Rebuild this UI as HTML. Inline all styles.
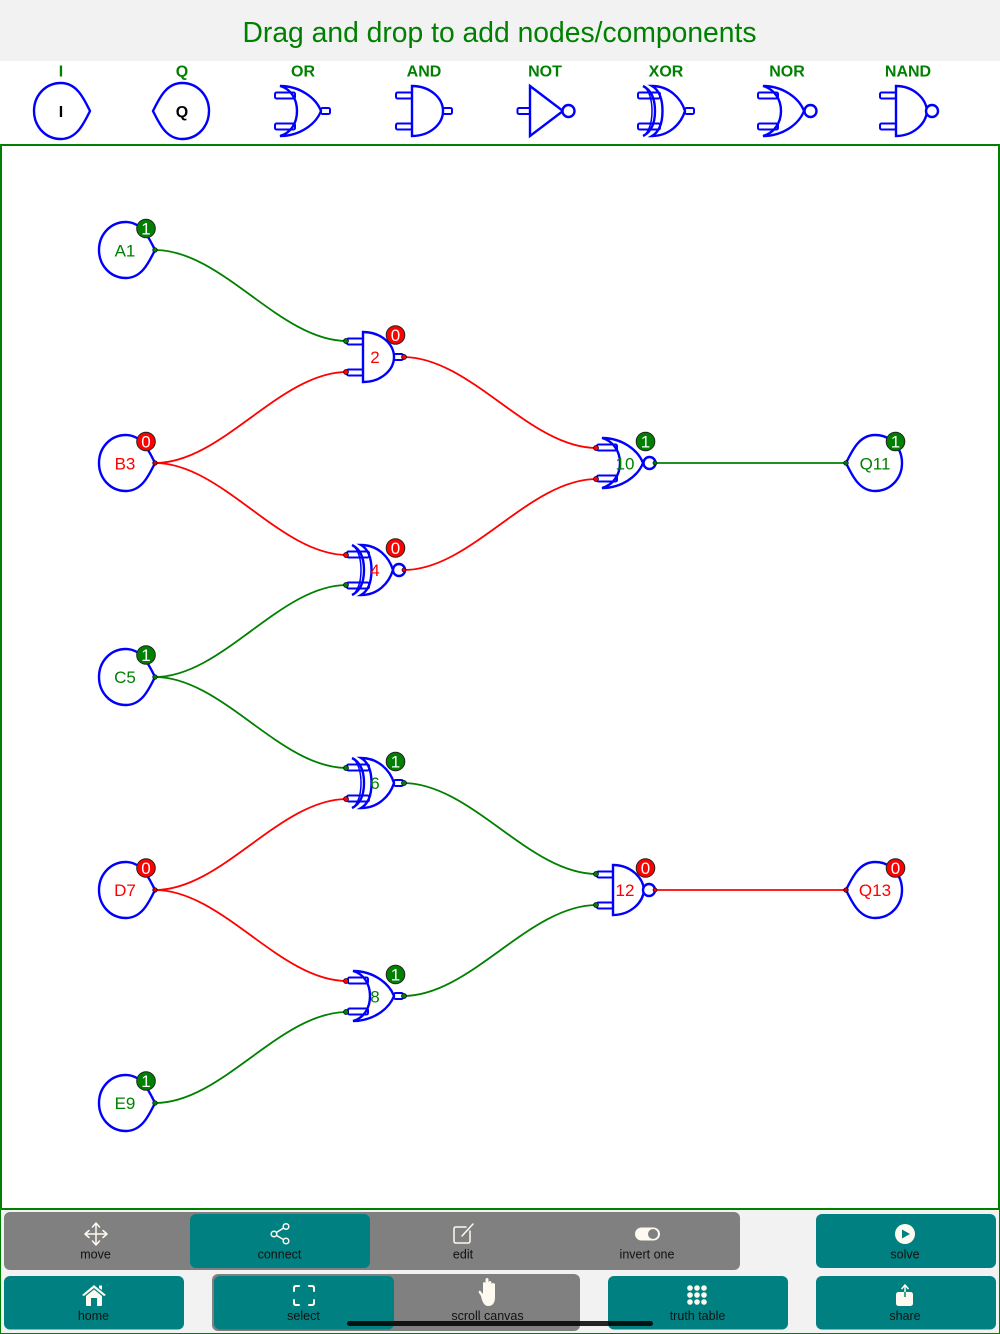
<!DOCTYPE html>
<html><head><meta charset="utf-8">
<style>
html,body{margin:0;padding:0;background:#fff}
svg{display:block}
text{font-family:"Liberation Sans",sans-serif}
</style></head><body>
<svg width="1000" height="1334" viewBox="0 0 1000 1334" xmlns="http://www.w3.org/2000/svg">
<defs>
<g id="pinA" fill="#fff" stroke="#00f" stroke-width="2">
<rect x="-16" y="-18.5" width="16" height="6" rx="1.5"/>
<rect x="-16" y="12.5" width="16" height="6" rx="1.5"/>
</g>
<g id="pinO" fill="#fff" stroke="#00f" stroke-width="2">
<rect x="-5" y="-18.5" width="20" height="6" rx="1.5"/>
<rect x="-5" y="12.5" width="20" height="6" rx="1.5"/>
</g>
<g id="pinX" fill="#fff" stroke="#00f" stroke-width="2">
<rect x="-14" y="-18.5" width="22" height="6" rx="1.5"/>
<rect x="-14" y="12.5" width="22" height="6" rx="1.5"/>
</g>
<g id="out"><rect x="0" y="-3" width="9" height="6" rx="1.5" fill="#fff" stroke="#00f" stroke-width="2"/></g>
<g id="and" fill="none" stroke="#00f" stroke-width="2.4">
<use href="#pinA"/><use href="#out" x="31"/>
<path d="M0,-25 C18,-25 31,-13 31,0 C31,13 18,25 0,25 Z" fill="#fff"/>
</g>
<g id="nand" fill="none" stroke="#00f" stroke-width="2.4">
<use href="#pinA"/>
<path d="M0,-25 C17,-25 30,-13 31,0 C30,13 17,25 0,25 Z" fill="#fff"/>
<circle cx="36" cy="0" r="6" fill="#fff"/>
</g>
<g id="or" fill="none" stroke="#00f" stroke-width="2.4">
<use href="#pinO"/><use href="#out" x="41"/>
<path d="M0,-25 C20,-25 36,-13 41,0 C36,13 20,25 0,25 C11,22 17,12 17,0 C17,-12 11,-22 0,-25 Z"/>
</g>
<g id="nor" fill="none" stroke="#00f" stroke-width="2.4">
<use href="#pinO"/>
<path d="M0,-25 C20,-25 36,-13 41,0 C36,13 20,25 0,25 C11,22 18,12 18,0 C18,-12 11,-22 0,-25 Z"/>
<circle cx="47.500" cy="0" r="6" fill="#fff"/>
</g>
<g id="xor" fill="none" stroke="#00f" stroke-width="2.4">
<use href="#pinX"/><use href="#out" x="33"/>
<path d="M0,-25 C17,-25 29,-13 33,0 C29,13 17,25 0,25 C7,21 10.500,12 10.500,0 C10.500,-12 7,-21 0,-25 Z"/>
<path d="M-9,-25 C-1,-21 3,-12 3,0 C3,12 -1,21 -9,25"/>
<path d="M-8,-25 C-3,-20 0,-11 0,0 C0,11 -3,20 -8,25" stroke-width="1.5"/>
</g>
<g id="xnor" fill="none" stroke="#00f" stroke-width="2.4">
<use href="#pinX"/>
<path d="M0,-25 C17,-25 28,-13 32,0 C28,13 17,25 0,25 C7,21 10.500,12 10.500,0 C10.500,-12 7,-21 0,-25 Z"/>
<path d="M-9,-25 C-1,-21 3,-12 3,0 C3,12 -1,21 -9,25"/>
<path d="M-8,-25 C-3,-20 0,-11 0,0 C0,11 -3,20 -8,25" stroke-width="1.500"/>
<circle cx="38" cy="0" r="6" fill="#fff"/>
</g>
<path id="nI" d="M56,0 C50,-12 43,-28 27,-28 C11,-28 0,-15 0,0 C0,15 11,28 27,28 C43,28 50,12 56,0 Z" fill="#fff" stroke="#00f" stroke-width="2.4"/>
<path id="nQ" d="M0,0 C6,-12 13,-28 29,-28 C45,-28 56,-15 56,0 C56,15 45,28 29,28 C13,28 6,12 0,0 Z" fill="#fff" stroke="#00f" stroke-width="2.4"/>
</defs>

<rect width="1000" height="1334" fill="#fff"/>
<rect width="1000" height="61" fill="#f2f2f2"/>
<text x="499.500" y="42" font-size="29" fill="#008000" text-anchor="middle" textLength="514" lengthAdjust="spacingAndGlyphs">Drag and drop to add nodes/components</text>

<g font-size="16" font-weight="bold" fill="#008000" text-anchor="middle">
<text x="61" y="76.500">I</text><text x="182" y="76.500">Q</text><text x="303" y="76.500">OR</text><text x="424" y="76.500">AND</text><text x="545" y="76.500">NOT</text><text x="666" y="76.500">XOR</text><text x="787" y="76.500">NOR</text><text x="908" y="76.500">NAND</text>
</g>
<use href="#nI" x="34" y="111"/>
<use href="#nQ" x="153" y="111"/>
<text x="61" y="117" font-size="16" font-weight="bold" text-anchor="middle">I</text>
<text x="182" y="117" font-size="16" font-weight="bold" text-anchor="middle">Q</text>
<use href="#or" x="280" y="111"/>
<use href="#and" x="412" y="111"/>
<g fill="none" stroke="#00f" stroke-width="2.400">
<rect x="517.500" y="108" width="13" height="6" rx="1.500" fill="#fff" stroke-width="2"/>
<path d="M530,86 L563,111 L530,136 Z" fill="#fff"/>
<circle cx="568.500" cy="111" r="6" fill="#fff"/>
</g>
<use href="#xor" x="652" y="111"/>
<use href="#nor" x="763" y="111"/>
<use href="#nand" x="896" y="111"/>

<rect x="1" y="145" width="998" height="1064" fill="#fff" stroke="#008000" stroke-width="2"/>

<g fill="none" stroke-width="1.800">
<path d="M155,250 C222,250 280,341 347,341" stroke="#008000"/>
<path d="M155,463 C222,463 280,372 347,372" stroke="#f00"/>
<path d="M155,463 C222,463 280,555 347,555" stroke="#f00"/>
<path d="M155,677 C222,677 280,585 347,585" stroke="#008000"/>
<path d="M155,677 C222,677 280,768 347,768" stroke="#008000"/>
<path d="M155,890 C222,890 280,799 347,799" stroke="#f00"/>
<path d="M155,890 C222,890 280,981 347,981" stroke="#f00"/>
<path d="M155,1103 C222,1103 280,1012 347,1012" stroke="#008000"/>
<path d="M403,357 C471,357 529,448 597,448" stroke="#f00"/>
<path d="M404,570 C471,570 529,479 597,479" stroke="#f00"/>
<path d="M403,783 C471,783 529,874 597,874" stroke="#008000"/>
<path d="M403,996 C471,996 529,905 597,905" stroke="#008000"/>
<path d="M655,463 L846,463" stroke="#008000"/>
<path d="M655,890 L846,890" stroke="#f00"/>
</g>

<use href="#nI" x="99" y="250"/><use href="#nI" x="99" y="463"/><use href="#nI" x="99" y="677"/><use href="#nI" x="99" y="890"/><use href="#nI" x="99" y="1103"/>
<use href="#nQ" x="846" y="463"/><use href="#nQ" x="846" y="890"/>

<use href="#and" x="363" y="357"/>
<use href="#xnor" x="361" y="570"/>
<use href="#xor" x="361" y="783"/>
<use href="#or" x="353" y="996"/>
<use href="#nor" x="602" y="463"/>
<use href="#nand" x="613" y="890"/>

<g stroke="#003" stroke-width="0.700">
<circle cx="155" cy="250" r="2.300" fill="#008000"/><circle cx="155" cy="463" r="2.300" fill="#c00"/><circle cx="155" cy="677" r="2.300" fill="#008000"/><circle cx="155" cy="890" r="2.300" fill="#c00"/><circle cx="155" cy="1103" r="2.300" fill="#008000"/>
<circle cx="846" cy="463" r="2.300" fill="#008000"/><circle cx="846" cy="890" r="2.300" fill="#c00"/>
<circle cx="346" cy="341" r="2.500" fill="#008000"/><circle cx="346" cy="372" r="2.500" fill="#f00"/>
<circle cx="346" cy="555" r="2.500" fill="#f00"/><circle cx="346" cy="585" r="2.500" fill="#008000"/>
<circle cx="346" cy="768" r="2.500" fill="#008000"/><circle cx="346" cy="799" r="2.500" fill="#f00"/>
<circle cx="346" cy="981" r="2.500" fill="#f00"/><circle cx="346" cy="1012" r="2.500" fill="#008000"/>
<circle cx="596" cy="448" r="2.500" fill="#f00"/><circle cx="596" cy="479" r="2.500" fill="#f00"/>
<circle cx="596" cy="874" r="2.500" fill="#008000"/><circle cx="596" cy="905" r="2.500" fill="#008000"/>
<circle cx="404" cy="357" r="2.500" fill="#f00"/><circle cx="404" cy="570" r="2" fill="#f00"/>
<circle cx="404" cy="783" r="2.500" fill="#008000"/><circle cx="404" cy="996" r="2.500" fill="#008000"/>
<circle cx="655" cy="463" r="2" fill="#008000"/><circle cx="655" cy="890" r="2" fill="#f00"/>
</g>

<g font-size="17" text-anchor="middle">
<g fill="#008000">
<text x="125" y="256.500">A1</text><text x="125" y="683">C5</text><text x="125" y="1109">E9</text>
<text x="875" y="469.500">Q11</text><text x="625" y="469.500">10</text><text x="375" y="789">6</text><text x="375" y="1002.500">8</text>
</g>
<g fill="#f00">
<text x="125" y="469.500">B3</text><text x="125" y="896">D7</text><text x="875" y="896">Q13</text>
<text x="375" y="363">2</text><text x="375" y="576">4</text><text x="625" y="896">12</text>
</g>
</g>

<g stroke="#222" stroke-width="1">
<circle cx="146" cy="228.500" r="9.300" fill="#008000"/><circle cx="146" cy="441.500" r="9.300" fill="#f00"/><circle cx="146" cy="655" r="9.300" fill="#008000"/><circle cx="146" cy="868" r="9.300" fill="#f00"/><circle cx="146" cy="1081" r="9.300" fill="#008000"/>
<circle cx="895.500" cy="441.500" r="9.300" fill="#008000"/><circle cx="895.500" cy="868" r="9.300" fill="#f00"/>
<circle cx="395.500" cy="335" r="9.300" fill="#f00"/><circle cx="395.500" cy="548" r="9.300" fill="#f00"/><circle cx="395.500" cy="761.500" r="9.300" fill="#008000"/><circle cx="395.500" cy="974.500" r="9.300" fill="#008000"/>
<circle cx="645.500" cy="441.500" r="9.300" fill="#008000"/><circle cx="645.500" cy="868" r="9.300" fill="#f00"/>
</g>
<g font-size="17" fill="#fff" text-anchor="middle">
<text x="146" y="234.500">1</text><text x="146" y="447.500">0</text><text x="146" y="661">1</text><text x="146" y="874">0</text><text x="146" y="1087">1</text>
<text x="895.500" y="447.500">1</text><text x="895.500" y="874">0</text>
<text x="395.500" y="341">0</text><text x="395.500" y="554">0</text><text x="395.500" y="767.500">1</text><text x="395.500" y="980.500">1</text>
<text x="645.500" y="447.500">1</text><text x="645.500" y="874">0</text>
</g>

<rect x="0" y="1210" width="1000" height="124" fill="#f2f2f2"/>
<rect x="0.500" y="1209" width="999" height="124.500" fill="none" stroke="#008000" stroke-width="1"/>
<rect x="1" y="1208.500" width="998" height="1.500" fill="#008000"/>

<rect x="4" y="1212" width="736" height="58" rx="6" fill="#808080"/>
<rect x="190" y="1214" width="180" height="54" rx="6" fill="#008080"/>
<rect x="816" y="1214" width="180" height="54" rx="6" fill="#008080"/>
<rect x="4" y="1276" width="180" height="53.500" rx="6" fill="#008080"/>
<rect x="212" y="1274" width="368" height="57" rx="6" fill="#808080"/>
<rect x="214" y="1276" width="180" height="53.500" rx="6" fill="#008080"/>
<rect x="608" y="1276" width="180" height="53.500" rx="6" fill="#008080"/>
<rect x="816" y="1276" width="180" height="53.500" rx="6" fill="#008080"/>

<g font-size="12.500" fill="#111" text-anchor="middle">
<text x="95.500" y="1258.500">move</text><text x="279.500" y="1258.500">connect</text><text x="463" y="1258.500">edit</text><text x="647" y="1258.500">invert one</text><text x="905" y="1258.500">solve</text>
<text x="93.500" y="1320">home</text><text x="303.500" y="1320">select</text><text x="487.500" y="1320">scroll canvas</text><text x="697.500" y="1320">truth table</text><text x="905" y="1320">share</text>
</g>

<g fill="none" stroke="#fffaf0" stroke-width="1.500" stroke-linecap="round" stroke-linejoin="round">
<path d="M96,1224 V1244 M85.500,1234 H106.500 M92.500,1227 L96,1223 L99.500,1227 M92.500,1241 L96,1245 L99.500,1241 M89,1230.500 L85,1234 L89,1237.500 M103,1230.500 L107,1234 L103,1237.500"/>
<path d="M274,1234 L286,1226.500 M274,1234 L286,1241"/>
<circle cx="274" cy="1234" r="2.800" fill="#008080"/><circle cx="286" cy="1226.500" r="2.800" fill="#008080"/><circle cx="286" cy="1241" r="2.800" fill="#008080"/>
<path d="M466,1227 H456 Q454,1227 454,1229 V1241 Q454,1243 456,1243 H468 Q470,1243 470,1241 V1231 M462,1236 L473,1224" stroke="#fffaf0"/>
<path d="M294,1291 V1288 Q294,1286 296,1286 H299 M309,1286 H312 Q314,1286 314,1288 V1291 M314,1300 V1303 Q314,1305 312,1305 H309 M299,1305 H296 Q294,1305 294,1303 V1300" stroke-width="2"/>
</g>
<rect x="635" y="1227.500" width="25" height="13" rx="6.500" fill="#fffaf0"/>
<circle cx="653" cy="1234" r="5" fill="#808080"/>
<circle cx="905" cy="1234" r="10" fill="#fffaf0"/>
<path d="M902,1229.500 L910,1234 L902,1238.500 Z" fill="#008080"/>
<path d="M82,1295 L94,1285 L106,1295 L104,1296 L94,1288 L84,1296 Z M86,1296 L94,1289.500 L102,1296 V1305 Q102,1306 101,1306 H97 V1298 H91 V1306 H87 Q86,1306 86,1305 Z M99,1285.500 H102 V1290 L99,1288 Z" fill="#fffaf0"/>
<path d="M481,1296 L479,1293 Q478,1291 480,1290.500 L483,1294 V1283 Q484,1281 485.500,1283 V1279 Q487,1277 488.500,1279 V1282 Q490,1280 491.500,1282 V1284 Q493,1282 495,1284 V1297 Q495,1306 488,1306 Q483,1306 481,1296 Z" fill="#fffaf0"/>
<g fill="#fffaf0">
<circle cx="690" cy="1288" r="2.800"/><circle cx="697" cy="1288" r="2.800"/><circle cx="704" cy="1288" r="2.800"/>
<circle cx="690" cy="1295" r="2.800"/><circle cx="697" cy="1295" r="2.800"/><circle cx="704" cy="1295" r="2.800"/>
<circle cx="690" cy="1302" r="2.800"/><circle cx="697" cy="1302" r="2.800"/><circle cx="704" cy="1302" r="2.800"/>
<rect x="896" y="1292" width="17" height="14" rx="2.500"/>
</g>
<path d="M905,1297 V1286 M901.500,1289 L905,1285 L908.500,1289" fill="none" stroke="#fffaf0" stroke-width="1.500"/>
<path d="M905,1297 V1292" stroke="#008080" stroke-width="1.500"/>

<rect x="347" y="1321" width="306" height="5" rx="2.500" fill="#000" fill-opacity="0.850"/>
</svg>
</body></html>
